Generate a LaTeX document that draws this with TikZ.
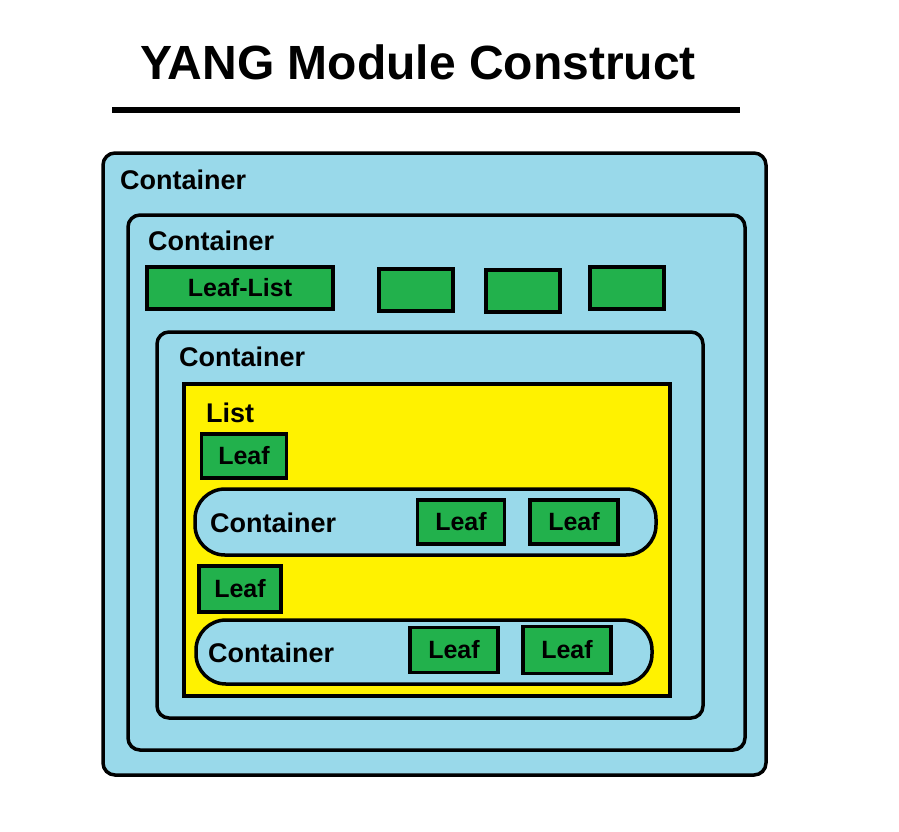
\documentclass[tikz,border=0pt]{standalone}
\usepackage{fontspec}
\setmainfont{Liberation Sans}
\definecolor{ctblue}{RGB}{153,217,234}
\definecolor{lfgreen}{RGB}{34,177,76}
\definecolor{lsyellow}{RGB}{255,242,0}
\begin{document}
\begin{tikzpicture}[x=1pt,y=-1pt]
  \tikzset{
    cont/.style={draw, line width=3.5pt, fill=ctblue, rounded corners=12pt},
    oval/.style={draw, line width=3.5pt, fill=ctblue, rounded corners=30pt},
    listbox/.style={draw, line width=3.5pt, fill=lsyellow},
    leaf/.style={draw, line width=3.5pt, fill=lfgreen, inner sep=0pt, font=\fontsize{25}{25}\bfseries},
    lbl/.style={anchor=west, inner sep=0pt, font=\fontsize{27}{27}\bfseries},
  }
  \useasboundingbox (0,0) rectangle (899,831);
  \node[anchor=center, font=\fontsize{48}{48}\bfseries] (title) at (418,62) {YANG Module Construct};
  \coordinate (ruleA) at (112,110);
  \coordinate (ruleB) at (740,110);
  \draw[line width=6pt] (ruleA) -- (ruleB);

  \draw[cont] (103,153) rectangle (766,775);
  \node[lbl] (c1) at (120,180) {Container};
  \draw[cont] (128,215) rectangle (745,750);
  \node[lbl] (c2) at (148,241) {Container};
  \node[leaf, minimum width=186pt, minimum height=42pt] (ll) at (240,288) {Leaf-List};
  \foreach \x/\y in {416/290, 523/291, 627/288}
    \node[leaf, minimum width=74pt, minimum height=42pt] at (\x,\y) {};

  \draw[cont] (157,332) rectangle (703,718);
  \node[lbl] (c3) at (179,357) {Container};
  \draw[listbox] (184,384) rectangle (670,696);
  \node[lbl] (lst) at (206,413) {List};
  \node[leaf, minimum width=85pt, minimum height=44pt] (lf1) at (244,456) {Leaf};

  \draw[oval] (195,489) rectangle (656,555);
  \node[lbl] (c4) at (210,523) {Container};
  \node[leaf, minimum width=87pt, minimum height=44pt] (lf2) at (461,522) {Leaf};
  \node[leaf, minimum width=88pt, minimum height=44pt] (lf3) at (574,522) {Leaf};

  \node[leaf, minimum width=82pt, minimum height=46pt] (lf4) at (240,589) {Leaf};
  \draw[oval] (196,620) rectangle (652,684);
  \node[lbl] (c5) at (208,653) {Container};
  \node[leaf, minimum width=88pt, minimum height=45pt] (lf5) at (454,650) {Leaf};
  \node[leaf, minimum width=88pt, minimum height=47pt] (lf6) at (567,650) {Leaf};
\end{tikzpicture}
\end{document}
